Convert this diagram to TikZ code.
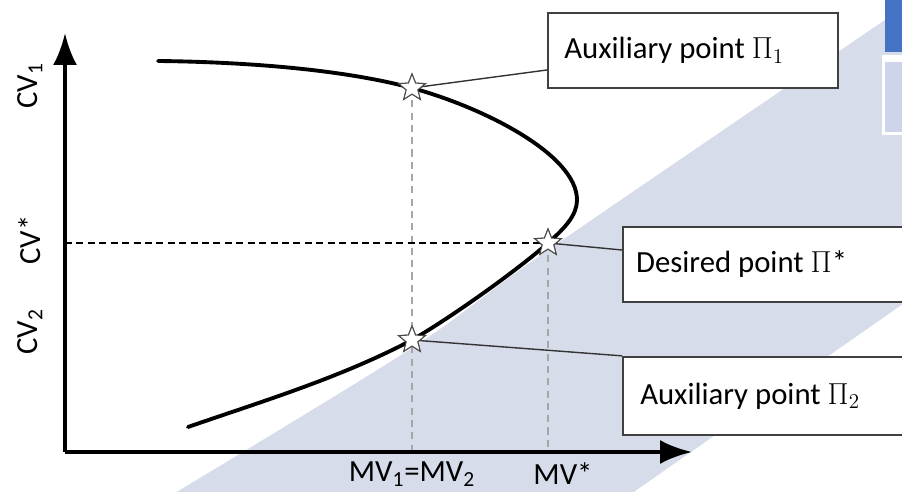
\documentclass[tikz,border=0pt]{standalone}
\usepackage{fontspec}
\setmainfont{Carlito}
\usepackage{tikz}
\usetikzlibrary{shapes.geometric,arrows.meta}

\definecolor{bandcol}{HTML}{D6DCE9}
\definecolor{tabblue}{HTML}{4472C4}
\definecolor{tablight}{HTML}{CED4EA}
\definecolor{boxline}{HTML}{404040}

\tikzset{
  lbl/.style={font=\fontsize{17.5}{20}\selectfont},
  infobox/.style={draw=boxline,line width=1.3pt,fill=white,lbl,
    minimum height=1.5cm,inner sep=0pt},
  starpt/.style={star,star points=5,star point ratio=2.3,draw=black!70,
    line width=0.6pt,fill=white,minimum size=0.56cm,inner sep=0pt},
  leader/.style={draw=black!80,line width=0.8pt},
  guide/.style={draw=black!35,dashed,line width=0.6pt,dash pattern=on 4pt off 3pt}
}

\begin{document}
\begin{tikzpicture}[x=0.02cm,y=-0.02cm]
                \useasboundingbox (0,0) rectangle (902,492);
                \clip (0,0) rectangle (902,492);
                % shaded band
                \fill[bandcol] plot[smooth] coordinates {(170,496) (412,348) (548,250) (882,22)}
                  -- (920,-4) -- (920,292) -- (628,496) -- cycle;
                \fill[tabblue] (885,0) rectangle (902,52);
                \fill[white] (882,55) rectangle (902,135);
                \fill[tablight] (885,62) rectangle (902,132);
                % points on the curve
                \coordinate (o) at (65,452);
                \node[starpt] (p1) at (412,88) {};
                \node[starpt] (ps) at (548,243) {};
                \node[starpt] (p2) at (412,340) {};
                % guides
                \draw[guide] (p1.center) -- (p1.center |- o);
                \draw[guide] (ps.center) -- (ps.center |- o);
                \draw[dashed,line width=0.7pt,dash pattern=on 4pt off 2.5pt] (o |- ps.center) -- (ps.center);
                % axes
                \draw[line width=2.3pt,-{Latex[length=0.64cm,width=0.48cm]}] (o) -- (65,33);
                \draw[line width=2.3pt,-{Latex[length=0.64cm,width=0.48cm]}] (o) -- (692,452);
                % curve
                \draw[line width=2.2pt,line cap=round] (158,61) .. controls (250,62) and (345,70) .. (p1.center)
                  .. controls (485,108) and (577,155) .. (577,200)
                  .. controls (577,215) and (565,228) .. (ps.center)
                  .. controls (520,268) and (455,315) .. (p2.center)
                  .. controls (340,378) and (260,402) .. (188,427);
                % boxes
                \node[infobox,minimum width=5.8cm] (b1) at (693,50.5) {\hspace*{-0.75cm}Auxiliary point $\Pi_1$};
                \node[infobox,minimum width=6.2cm,anchor=west] (bs) at (622,264.5) {\hspace*{0.26cm}Desired point $\Pi$*\hspace*{2.3cm}};
                \node[infobox,minimum width=6.2cm,minimum height=1.56cm,anchor=west] (b2) at (622,396) {\hspace*{0.28cm}Auxiliary point $\Pi_2$\hspace*{1.4cm}};
                \draw[leader] (p1.center) -- ([yshift=-0.39cm]b1.west);
                \draw[leader] (ps.center) -- ([yshift=0.29cm]bs.west);
                \draw[leader] (p2.center) -- (b2.north west);
                \node[starpt] at (p1) {};
                \node[starpt] at (ps) {};
                \node[starpt] at (p2) {};
                % axis labels
                \node[lbl,rotate=90] (cv1) at (30,86) {CV\textsubscript{1}};
                \node[lbl,rotate=90] (cvs) at (30,240) {CV*};
                \node[lbl,rotate=90] (cv2) at (30,332) {CV\textsubscript{2}};
                \node[lbl,inner sep=1pt] (mv12) at (412,474) {MV\textsubscript{1}=MV\textsubscript{2}};
                \node[lbl,inner sep=1pt] (mvs) at (563,474) {MV*};
            \end{tikzpicture}
\end{document}
